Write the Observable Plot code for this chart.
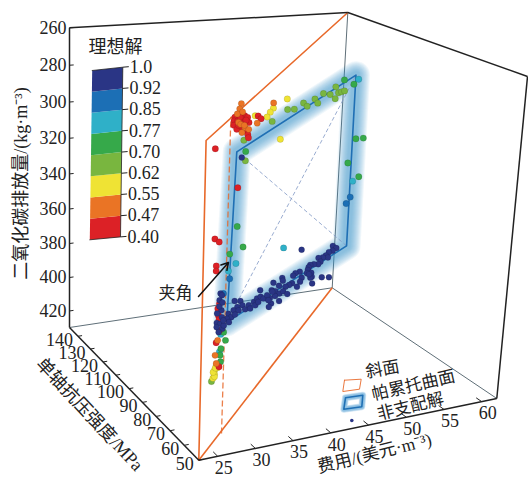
<!DOCTYPE html>
<html><head><meta charset="utf-8">
<script src="https://cdn.jsdelivr.net/npm/d3@7"></script>
<script src="https://cdn.jsdelivr.net/npm/@observablehq/plot@0.6"></script>
<style>
html,body{margin:0;padding:0;background:#fff}
svg{display:block;background:#fff}
</style></head><body>
<div id="chart"></div>
<script>
// ---------- axis values ----------
const costTicks = [25,30,35,40,45,50,55,60];
const strengthTicks = [50,60,70,80,90,100,110,120,130,140];
const co2Ticks = [260,280,300,320,340,360,380,400,420];
const costExtent = [22.5,62];
const strengthExtent = [50,147];
const co2Extent = [260,430];

// ---------- ideal-solution colour classes ----------
const idealStops = [1.0,0.92,0.85,0.77,0.70,0.62,0.55,0.47,0.40];
const idealLabels = ["1.0","0.92","0.85","0.77","0.70","0.62","0.55","0.47","0.40"];
const idealColors = ["#dc2126","#ea7425","#efe334","#79b63f","#36a94a","#2fb0c8","#1c6fb5","#2a3585"];

// ---------- non-dominated solutions: [cost, co2], read at strength 96 MPa ----------
const solutionStrength = 96.2;
const navyPoints = [[49.6,363.6],[50.1,365.2],[49.6,366.4],[49.1,366.9],[48.7,368.5],[49.0,369.9],[48.3,369.4],[47.7,369.3],[48.0,371.6],[47.7,372.8],[47.1,372.4],[46.6,372.5],[46.4,373.7],[46.3,375.2],[46.8,377.1],[46.2,377.0],[46.9,379.5],[46.7,379.9],[46.5,377.8],[48.3,380.8],[49.3,381.5],[47.0,383.4],[45.2,375.4],[44.6,375.9],[44.3,377.1],[45.5,379.1],[45.3,381.3],[44.9,383.9],[44.2,381.4],[43.8,382.1],[43.3,382.8],[42.8,377.3],[42.9,379.0],[42.4,381.6],[41.6,379.3],[41.4,383.4],[41.9,384.3],[42.5,386.1],[43.0,385.1],[43.6,387.2],[41.9,387.1],[42.5,390.5],[41.4,391.1],[41.1,392.9],[40.8,387.8],[41.2,387.8],[45.3,362.9],[36.3,386.1],[37.1,386.6],[37.4,389.3],[36.7,389.8],[36.2,391.4],[36.9,391.9],[37.8,391.9],[35.5,392.9],[35.9,395.1],[36.4,394.0],[35.3,395.6],[35.6,397.8],[38.3,389.9],[39.0,388.5],[39.4,386.8],[39.9,386.2],[40.3,387.5],[39.2,390.6],[40.8,385.9],[41.5,384.4],[41.0,388.9],[39.6,389.0],[39.8,382.3],[38.5,392.0],[34.3,380.4],[34.5,381.5],[34.2,384.2],[34.5,390.2],[34.6,394.2],[33.9,397.0],[34.4,397.9],[33.9,399.6],[34.7,401.0],[34.2,402.6],[34.9,399.2],[34.2,387.7],[34.6,385.7],[33.9,391.6],[34.8,396.2],[36.6,306.4]];
const bluePoints = [[51.6,337.3],[51.1,340.6],[35.5,372.8],[34.7,380.7]];
const tealPoints = [[42.8,360.2],[36.3,364.7],[34.5,404.1],[34.4,414.3],[51.8,273.0],[51.8,328.5],[35.3,368.3]];
const greenPoints = [[37.1,303.4],[36.3,344],[37.2,356],[35.4,358.8],[34.9,403.1],[35.2,408.1],[34.6,412.5],[34.5,416.3],[34.6,420.2],[49.9,272.3],[51.2,275.3],[51.9,305.2],[52.9,305.4],[51.0,317.9],[52.6,326.5]];
const olivePoints = [[36.8,297.2],[37.1,308.4],[40.5,289.2],[42.5,284],[43.4,284.3],[44.6,281.7],[45.1,283.7],[46.1,280.4],[46.5,282.8],[47.2,278.1],[48.1,279.1],[48.8,281.7],[48.8,275.4],[49.2,278.8],[49.6,278.5],[50.0,278.2],[33.4,431]];
const yellowPoints = [[38.2,284.9],[42.4,278.3],[40.6,282.2],[40.2,284.1],[39.8,286.5],[41.7,299.5],[34.0,422.2],[33.8,424.5],[34.2,423.4],[33.8,427],[33.6,429.2],[33.8,428.4],[33.6,425.7],[33.9,423.4]];
const orangePoints = [[36.3,277.4],[36.1,280.1],[35.8,282.6],[36.9,290.5],[37.4,291.7],[36.0,287.2],[36.3,288.4],[36.5,292.9],[36.5,281.9],[36.8,289.2],[38.5,289],[40.6,279.4],[34.1,407.3],[33.8,415.8],[34.0,420.8]];
const redPoints = [[35.5,284.2],[36.3,282.9],[36.8,284.1],[35.4,286.1],[35.9,286.4],[36.6,285.8],[37.2,285.2],[37.4,288.0],[36.8,288.1],[35.4,288.4],[36.2,290.1],[37.1,292.5],[37.3,294.4],[37.4,296.2],[35.8,290.8],[36.2,284.5],[36.0,288.7],[37.0,286.6],[33.0,299.6],[38.6,285.3],[39.0,286.9],[36.2,322.5],[33.3,349],[33.9,351],[33.6,364.3],[33.6,367.2],[34.2,386.1],[34.0,388.9],[34.1,392.9],[34.2,395.5],[34.3,401.7],[33.9,408.5],[34.4,423]];

// Pareto surface corners [cost, co2]
const paretoCorners = [[35.3,397.6],[51.5,364.9],[51.4,270.6],[35.9,302.9]];
// vertical trace on the inclined plane
const planeTrace = {cost:28.0, strength:62.5};

// ---------- layout (pixels of the 3-D view) ----------
const view = {
  F:[198.3,459.7],R:[496.3,398],L:[69,327],B:[331.7,287.3],
  TF:[205.6,140],TR:[527,76],TL:[69,27.3],TB:[347.3,12]
};
const bar = {tl:[91.7,70],tr:[122.3,66.7],bl:[89.3,239.3],br:[120,236.4]};
const W = 528, H = 478;
const serif = "'Liberation Serif','Noto Sans CJK SC',serif";
const orange = "#e8692a", blueLine = "#1f6fb4";

// ---------- 3-D projection ----------
const warp = (s,k) => (1+k)*s/(1+k*s);
const mix = (a,b,t) => [a[0]+(b[0]-a[0])*t, a[1]+(b[1]-a[1])*t];
function project(c,s,z){
  const u=(c-costExtent[0])/(costExtent[1]-costExtent[0]);
  const v=warp((s-strengthExtent[0])/(strengthExtent[1]-strengthExtent[0]),0.1);
  const w=1-warp((z-co2Extent[0])/(co2Extent[1]-co2Extent[0]),0.07);
  const floor=mix(mix(view.F,view.R,u),mix(view.L,view.B,u),v);
  const top=mix(mix(view.TF,view.TR,u),mix(view.TL,view.TB,u),v);
  return mix(floor,top,w);
}
const [c0,c1]=costExtent,[s0,s1]=strengthExtent,[z1,z0]=co2Extent; // z0 = floor, z1 = top
const seg=(a,b)=>{const p=project(...a),q=project(...b);return {x1:p[0],y1:p[1],x2:q[0],y2:q[1]};};
const link=(rows,opt)=>Plot.link(rows,{x1:"x1",y1:"y1",x2:"x2",y2:"y2",...opt});
const P=([c,z])=>project(c,solutionStrength,z);

const dotGroups=[[navyPoints,0.96,2.0],[bluePoints,0.88,2.3],[tealPoints,0.81,2.3],[greenPoints,0.73,2.3],[olivePoints,0.66,2.3],[yellowPoints,0.58,2.3],[redPoints,0.44,2.3],[orangePoints,0.50,2.2]];
const dots=dotGroups.flatMap(([arr,ideal,r])=>arr.map(d=>{const p=P(d);return {x:p[0],y:p[1],ideal,r};}));

const paretoRing=[...paretoCorners,paretoCorners[0]].map(P);
const C=i=>[paretoCorners[i][0],solutionStrength,paretoCorners[i][1]];
const paretoDiagonals=[seg(C(0),C(2)),seg(C(1),C(3))];

// soft halo: stacked translucent strokes
const haloWidths=[28,26,24,22,20,18,16,14,12,10,8];
const haloMarks=(ring,widths,op)=>widths.map(w=>Plot.line(ring,{x:"0",y:"1",stroke:"#3f97d2",strokeOpacity:op,strokeWidth:w,strokeLinejoin:"round",strokeLinecap:"round"}));

// colour bar geometry
const n=idealStops.length-1;
const barBands=idealColors.flatMap((col,i)=>{
  const j=n-1-i; // colours are listed bottom-up
  const a=mix(bar.tl,bar.bl,j/n),b=mix(bar.tr,bar.br,j/n),c=mix(bar.tr,bar.br,(j+1)/n),d=mix(bar.tl,bar.bl,(j+1)/n);
  const ideal=(idealStops[j]+idealStops[j+1])/2;
  return [a,b,c,d].map(p=>({x:p[0],y:p[1],ideal,band:j}));
});
const barTicks=idealLabels.map((label,i)=>{const p=mix(bar.tr,bar.br,i/n);return {x:p[0],y:p[1],label};});

const txt={fontFamily:serif,fontSize:18,fill:"#222"};
const box=[
  seg([c0,s1,z0],[c0,s1,z1]),seg([c0,s1,z1],[c1,s1,z1]),seg([c1,s1,z1],[c1,s0,z1]),seg([c1,s0,z1],[c1,s0,z0]),
  seg([c0,s1,z0],[c0,s0,z0]),seg([c0,s0,z0],[c1,s0,z0])
];
const backBox=[seg([c1,s1,z1],[c1,s1,z0]),seg([c0,s1,z0],[c1,s1,z0]),seg([c1,s1,z0],[c1,s0,z0])];
const plane=[[c0,s0,z0],[c0,s0,z1],[c1,s1,z1],[c1,s1,z0]].map(p=>project(...p));
const tickZ=co2Ticks.map(z=>seg([c0,s1,z],[c0+0.6,s1,z]));
const tickS=strengthTicks.map(s=>seg([c0,s,z0],[c0+0.6,s,z0]));
const tickC=costTicks.map(c=>seg([c,s0,z0],[c,s0+3,z0]));
const labZ=co2Ticks.map(z=>{const p=project(c0,s1,z);return {x:p[0],y:p[1],t:String(z)};});
const labS=strengthTicks.map(s=>{const p=project(c0,s,z0);return {x:p[0],y:p[1],t:String(s)};});
const labC=costTicks.map(c=>{const p=project(c,s0,z0);return {x:p[0],y:p[1],t:String(c)};});

const legendPlane=[[344,379.7],[360.7,378.7],[359,388.7],[342.3,391],[344,379.7]];
const legendSurface=[[345,397.3],[362.3,394.7],[361.3,406.3],[343.3,408.7],[345,397.3]];

const chart=Plot.plot({
  width:W,height:H,margin:0,
  x:{domain:[0,W],range:[0,W],axis:null},
  y:{domain:[0,H],range:[0,H],axis:null},
  color:{type:"threshold",domain:[0.47,0.55,0.62,0.70,0.77,0.85,0.92],range:idealColors},
  style:{background:"#fff"},
  marks:[
    // back edges & plane
    link(backBox,{stroke:"#5f6f78",strokeWidth:1}),
    Plot.line(plane.slice(0,3),{x:"0",y:"1",stroke:orange,strokeWidth:1.6}),
    link([{x1:plane[0][0],y1:plane[0][1],x2:plane[3][0],y2:plane[3][1]}],{stroke:orange,strokeWidth:1.6}),
    // Pareto surface
    ...haloMarks(paretoRing,haloWidths,0.08),
    link([seg([planeTrace.cost,planeTrace.strength,z0],[planeTrace.cost,planeTrace.strength,z1])],{stroke:orange,strokeWidth:1.3,strokeDasharray:"6,3",strokeOpacity:.85}),
    link(paretoDiagonals,{stroke:"#7f97c4",strokeWidth:.8,strokeDasharray:"4,2.5"}),
    Plot.line(paretoRing,{x:"0",y:"1",stroke:blueLine,strokeWidth:1.6}),
    // front edges
    link(box,{stroke:"#222",strokeWidth:1.5}),
    link(tickZ,{stroke:"#222",strokeWidth:1}),link(tickS,{stroke:"#222",strokeWidth:1}),link(tickC,{stroke:"#222",strokeWidth:1}),
    Plot.text(labZ,{x:"x",y:"y",text:"t",textAnchor:"end",dx:-3,...txt}),
    Plot.text(labS,{x:"x",y:"y",text:"t",textAnchor:"end",dx:-5,dy:4,...txt}),
    Plot.text(labC,{x:"x",y:"y",text:"t",dx:6,dy:12,...txt}),
    // points
    Plot.dot(dots,{x:"x",y:"y",r:"r",fill:"ideal",stroke:"#000",strokeOpacity:.22,strokeWidth:.5}),
    // axis titles
    Plot.text(["二氧化碳排放量/(kg·m⁻³)"],{x:[21],y:[183],text:d=>d,rotate:-90,...txt}),
    Plot.text(["单轴抗压强度/MPa"],{x:[89],y:[414],text:d=>d,rotate:47,...txt}),
    Plot.text(["费用/(美元·m⁻³)"],{x:[374],y:[453],text:d=>d,rotate:-14,...txt,fontSize:17.5}),
    // annotation
    Plot.text(["夹角"],{x:[175],y:[293],text:d=>d,...txt,fontSize:17}),
    Plot.arrow([{a:198,b:296,c:228,d:262}],{x1:"a",y1:"b",x2:"c",y2:"d",bend:0,stroke:"#111",strokeWidth:1.5,headLength:8}),
    // colour bar
    Plot.line(barBands,{x:"x",y:"y",z:"band",fill:"ideal",stroke:"none"}),
    Plot.line([bar.tl,bar.tr,bar.br,bar.bl],{x:"0",y:"1",stroke:"#222",strokeWidth:.8}),
    link(barTicks.map(d=>({x1:d.x,y1:d.y,x2:d.x+6,y2:d.y-.5})),{stroke:"#222",strokeWidth:1}),
    Plot.text(barTicks,{x:"x",y:"y",text:"label",textAnchor:"start",dx:7,...txt}),
    Plot.text(["理想解"],{x:[115],y:[47],text:d=>d,...txt}),
    // legend
    Plot.line(legendPlane,{x:"0",y:"1",stroke:orange,strokeWidth:.9}),
    ...haloMarks(legendSurface,[7,6,5,4],0.2),
    Plot.line(legendSurface,{x:"0",y:"1",stroke:blueLine,strokeWidth:1.6}),
    Plot.dot([[351.3,420]],{x:"0",y:"1",r:1.8,fill:"#2a3585",stroke:"none"}),
    Plot.text(["斜面"],{x:[382],y:[369],text:d=>d,rotate:-10,...txt,fontSize:17}),
    Plot.text(["帕累托曲面"],{x:[413],y:[385],text:d=>d,rotate:-13,...txt,fontSize:17}),
    Plot.text(["非支配解"],{x:[410],y:[406],text:d=>d,rotate:-14,...txt,fontSize:17})
  ]
});
document.getElementById("chart").append(chart);
</script>
</body></html>
